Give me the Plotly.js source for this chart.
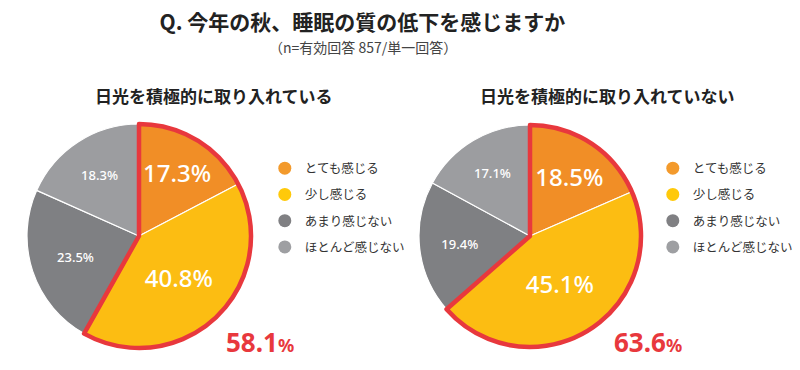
<!DOCTYPE html>
<html>
<head>
<meta charset="utf-8">
<script src="https://cdn.plot.ly/plotly-3.0.1.min.js"></script>
<style>html,body{margin:0;padding:0;background:#fff;}#chart{width:800px;height:370px;}</style>
</head>
<body>
<div id="chart"></div>
<script>
// ---- data ----
const categories = ['とても感じる', '少し感じる', 'あまり感じない', 'ほとんど感じない'];
const groupTitles = ['日光を積極的に取り入れている', '日光を積極的に取り入れていない'];
const valuesActive = [17.3, 40.8, 23.5, 18.3];
const valuesNotActive = [18.5, 45.1, 19.4, 17.1];
const mainTitle = 'Q. 今年の秋、睡眠の質の低下を感じますか';
const subTitle = '（n=有効回答 857/単一回答）';

// ---- style ----
const sliceColors = ['#F18E26', '#FCBD12', '#7F8083', '#9C9DA0'];
const legendColors = ['#F39A2C', '#FFC90A', '#808083', '#9E9FA2'];
const red = '#E8383D';
const jp = '"Noto Sans CJK JP", "Noto Sans", sans-serif';
const num = '"Noto Sans", Roboto, sans-serif';

const pies = [
  {vals: valuesActive, dx: [0.0325, 0.315], dy: [0.0595, 0.6649], legend: 'legend', tx: 0.268, totx: 0.325},
  {vals: valuesNotActive, dx: [0.5225, 0.8025], dy: [0.0622, 0.6622], legend: 'legend2', tx: 0.759, totx: 0.81}
];

const data = [];
const annotations = [];
pies.forEach((p, i) => {
  const sizes = p.vals.map((v, k) => k < 2 ? 24 : 13);
  data.push({
    type: 'pie', values: p.vals, labels: categories, sort: false, direction: 'clockwise', rotation: 0,
    domain: {x: p.dx, y: p.dy},
    marker: {colors: sliceColors, line: {color: '#ffffff', width: 1.2}},
    text: p.vals.map(v => v.toFixed(1) + '%'), textinfo: 'text', textposition: 'inside',
    insidetextorientation: 'horizontal',
    textfont: {color: '#ffffff', size: sizes, family: num, weight: 500},
    showlegend: false, hoverinfo: 'label+value'
  });
  const top2 = p.vals[0] + p.vals[1];
  const rest = p.vals[2] + p.vals[3];
  data.push({
    type: 'pie', values: [top2, rest], labels: ['a' + i, 'b' + i], sort: false, direction: 'clockwise', rotation: 0,
    domain: {x: p.dx, y: p.dy},
    marker: {colors: ['rgba(0,0,0,0)', 'rgba(0,0,0,0)'], line: {color: [red, 'rgba(0,0,0,0)'], width: [4.5, 0]}},
    textinfo: 'none', showlegend: false, hoverinfo: 'skip'
  });
  categories.forEach((c, k) => {
    data.push({
      type: 'scatter', mode: 'markers', x: [null], y: [null], name: c,
      marker: {color: legendColors[k], size: 13, symbol: 'circle'},
      legend: p.legend, legendgroup: p.legend + k, showlegend: true, hoverinfo: 'skip'
    });
  });
  annotations.push({
    text: groupTitles[i], xref: 'paper', yref: 'paper', x: p.tx, y: 0.743,
    xanchor: 'center', yanchor: 'middle', showarrow: false,
    font: {family: jp, size: 17, color: '#222', weight: 'bold'}
  });
  annotations.push({
    text: top2.toFixed(1) + '<span style="font-size:18px">%</span>', xref: 'paper', yref: 'paper',
    x: p.totx, y: 0.076, xanchor: 'center', yanchor: 'middle', showarrow: false,
    font: {family: num, size: 26, color: red, weight: 'bold'}
  });
});

annotations.push({
  text: subTitle, xref: 'paper', yref: 'paper', x: 0.454, y: 0.873,
  xanchor: 'center', yanchor: 'middle', showarrow: false,
  font: {family: jp, size: 14, color: '#444'}
});

const legendBase = {
  xanchor: 'left', yanchor: 'top', bgcolor: 'rgba(0,0,0,0)', borderwidth: 0,
  font: {family: jp, size: 12.5, color: '#333'}, tracegroupgap: 7, itemclick: false, itemdoubleclick: false
};

const layout = {
  width: 800, height: 370, margin: {l: 0, r: 0, t: 0, b: 0, autoexpand: false},
  paper_bgcolor: '#ffffff', plot_bgcolor: '#ffffff',
  title: {text: mainTitle, x: 0.453, xanchor: 'center', y: 0.94, yanchor: 'middle', yref: 'container',
          font: {family: jp, size: 21, color: '#222', weight: 'bold'}},
  xaxis: {visible: false}, yaxis: {visible: false},
  legend: Object.assign({x: 0.331, y: 0.585}, legendBase),
  legend2: Object.assign({x: 0.816, y: 0.585}, legendBase),
  annotations: annotations,
  showlegend: true
};

Plotly.newPlot('chart', data, layout, {displayModeBar: false, staticPlot: true});
</script>
</body>
</html>
